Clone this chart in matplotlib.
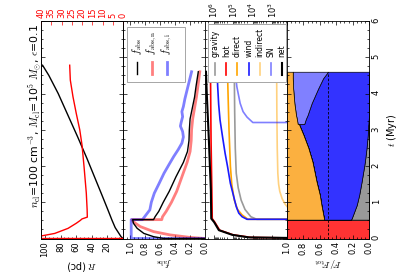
import numpy as np
import matplotlib
matplotlib.use('Agg')
import matplotlib.pyplot as plt
from matplotlib.patches import Rectangle
from matplotlib.ticker import AutoMinorLocator, MultipleLocator, LogLocator

plt.rcParams['mathtext.fontset'] = 'cm'
plt.rcParams['font.size'] = 7
plt.rcParams['xtick.labelsize'] = 6
plt.rcParams['ytick.labelsize'] = 6
plt.rcParams['xtick.direction'] = 'in'
plt.rcParams['ytick.direction'] = 'in'
plt.rcParams['xtick.major.size'] = 3
plt.rcParams['ytick.major.size'] = 3
plt.rcParams['xtick.minor.size'] = 1.5
plt.rcParams['ytick.minor.size'] = 1.5
plt.rcParams['xtick.major.pad'] = 2
plt.rcParams['ytick.major.pad'] = 2
plt.rcParams['axes.linewidth'] = 0.6

# --- radius / velocity (top panel in the original, left here)
t_R = [0, 0.05, 0.15, 0.3, 0.5, 0.8, 1.2, 1.7, 2.2, 2.8, 3.4, 4.0, 4.5, 4.78]
R_pc = [0, 2.5, 5.5, 10, 14, 19.5, 27, 36.5, 46, 58, 70.5, 83, 95, 103]
t_v = [0, 0, 0.02, 0.07, 0.14, 0.28, 0.42, 0.5, 0.54, 0.59, 0.8, 1.25, 1.98, 2.58, 3.0, 3.45, 3.91, 4.37, 4.78]
v_kms = [0, 70, 50, 39.9, 33.3, 26.8, 22.8, 20.8, 20.0, 17.4, 17.5, 17.9, 19.0, 20.0, 21.1, 22.8, 24.4, 25.7, 26.0]

# --- absorbed fractions
t_fabs = [0, 0, 0.05, 0.14, 0.28, 0.42, 0.52, 0.52, 0.6, 0.75, 1.0, 1.3, 1.7, 2.1, 2.4, 2.7, 3.0, 3.3, 3.6, 3.9, 4.2, 4.6]
f_abs = [0, 0.55, 0.69, 0.82, 0.91, 0.96, 0.97, 0.69, 0.67, 0.62, 0.56, 0.48, 0.39, 0.29, 0.235, 0.215, 0.21, 0.2, 0.17, 0.14, 0.12, 0.09]
t_fn = [0, 0.03, 0.1, 0.19, 0.33, 0.46, 0.52, 0.52, 0.6, 0.75, 1.0, 1.3, 1.7, 2.1, 2.4, 2.7, 3.0, 3.3, 3.6, 3.9, 4.2, 4.6]
f_abs_n = [0, 0.2, 0.47, 0.69, 0.87, 0.96, 0.98, 0.58, 0.57, 0.52, 0.45, 0.38, 0.31, 0.24, 0.2, 0.185, 0.18, 0.165, 0.14, 0.115, 0.095, 0.07]
t_fi = [0, 0, 0.52, 0.52, 0.6, 0.79, 1.0, 1.25, 1.5, 1.8, 2.05, 2.26, 2.45, 2.63, 2.8, 2.95, 3.1, 3.2, 3.36, 3.5, 3.64, 3.85, 4.1, 4.35, 4.6]
f_abs_i = [0, 0.99, 0.99, 0.84, 0.81, 0.74, 0.72, 0.68, 0.62, 0.55, 0.48, 0.42, 0.36, 0.31, 0.29, 0.30, 0.33, 0.32, 0.30, 0.31, 0.29, 0.27, 0.24, 0.21, 0.18]

# --- forces, log10 values (0 = below the plotted range)
t_net = [0, 0.03, 0.1, 0.23, 0.45, 0.55, 1.34, 2.0, 2.7, 3.3, 4.0, 4.6]
lg_net = [0, 4.2, 5.05, 5.74, 5.98, 6.13, 6.15, 6.2, 6.25, 6.3, 6.36, 6.4]
t_hot = [0, 0.03, 0.1, 0.23, 0.45, 0.55, 1.34, 2.0, 2.7, 3.3, 4.0, 4.6]
lg_hot = [0, 4.1, 5.0, 5.7, 5.95, 6.08, 6.1, 6.12, 6.14, 6.15, 6.16, 6.17]
t_grav = [0, 0.53, 0.53, 0.6, 0.8, 1.06, 1.4, 1.8, 2.5, 3.5, 4.6]
lg_grav = [0, 0, 3.8, 4.1, 4.4, 4.6, 4.75, 4.85, 4.9, 4.93, 4.95]
t_dir = [0, 0.53, 0.53, 0.65, 0.8, 1.06, 1.5, 2.0, 3.0, 4.0, 4.6]
lg_dir = [0, 0, 4.25, 4.55, 4.78, 4.95, 5.08, 5.15, 5.22, 5.27, 5.3]
t_wind = [0, 0.53, 0.53, 0.6, 0.7, 0.88, 1.2, 1.52, 2.0, 2.35, 2.8, 3.27, 3.7, 4.19, 4.6]
lg_wind = [0, 0, 4.3, 4.55, 4.72, 4.85, 5.0, 5.15, 5.3, 5.42, 5.55, 5.68, 5.75, 5.8, 5.83]
t_ind = [0, 0.85, 0.95, 1.1, 1.3, 1.5, 1.8, 2.5, 3.5, 4.6]
lg_ind = [0, 2.2, 2.35, 2.5, 2.62, 2.68, 2.72, 2.75, 2.77, 2.78]
t_sn = [0, 3.2, 3.2, 3.35, 3.5, 3.73, 4.0, 4.19, 4.6]
lg_sn = [0, 0, 4.0, 4.3, 4.5, 4.65, 4.75, 4.82, 4.9]

# --- force fractions
t4 = [0.0, 0.52, 0.52, 0.56, 0.92, 1.2, 1.57, 2.12, 2.5, 2.86, 3.13, 3.16, 3.16, 3.3, 3.4, 3.73, 4.14, 4.42, 4.6]
fr_hot = [1, 1, 0, 0, 0, 0, 0, 0, 0, 0, 0, 0, 0, 0, 0, 0, 0, 0, 0]
fr_grav = [0, 0, 0.22, 0.21, 0.15, 0.12, 0.09, 0.05, 0.03, 0.015, 0.01, 0.008, 0.008, 0.003, 0, 0, 0, 0, 0]
fr_wind = [0, 0, 0.33, 0.34, 0.43, 0.48, 0.55, 0.64, 0.71, 0.785, 0.84, 0.845, 0.782, 0.767, 0.75, 0.70, 0.62, 0.56, 0.50]
fr_sn = [0, 0, 0, 0, 0, 0, 0, 0, 0, 0, 0, 0, 0.08, 0.11, 0.14, 0.21, 0.305, 0.37, 0.43]
fr_dir = [0, 0, 0.45, 0.45, 0.42, 0.40, 0.36, 0.31, 0.26, 0.20, 0.15, 0.147, 0.13, 0.12, 0.11, 0.09, 0.075, 0.07, 0.07]
F_half = 0.5

title = r'$n_{\rm cl}$=100 cm$^{-3}$, $M_{\rm cl}$=10$^5$ $M_{\odot}$, $\epsilon$=0.1'


def rot_legend(ax, box, xs, styles, labels, y_handle, y_text, fs):
    # legend drawn by hand, the whole figure is turned by 90 degrees
    ax.add_patch(Rectangle(box[:2], box[2], box[3], transform=ax.transAxes,
                           facecolor='white', edgecolor='0.65', lw=0.7, zorder=5, clip_on=False))
    for x, st, lab in zip(xs, styles, labels):
        ax.plot([x, x], y_handle, transform=ax.transAxes, zorder=6, clip_on=False, **st)
        ax.text(x, y_text, lab, transform=ax.transAxes, rotation=90, ha='center', va='bottom',
                fontsize=fs, zorder=6)


fig = plt.figure(figsize=(4.11, 2.74), dpi=100)
W, H = 411.0, 274.0
axs = [fig.add_axes([x0 / W, 35.5 / H, 82 / W, 217.5 / H]) for x0 in [41, 123, 205, 287]]
for ax in axs:
    ax.set_ylim(0, 6)
    ax.yaxis.set_major_locator(MultipleLocator(1))
    ax.yaxis.set_minor_locator(AutoMinorLocator(4))
    ax.tick_params(axis='y', which='both', left=True, right=True, labelleft=False, width=0.5)
    ax.tick_params(axis='x', which='both', width=0.5, labelrotation=90)

# R panel
ax1 = axs[0]
ax1.plot(R_pc, t_R, 'k-', lw=1)
ax1.set_xlim(105, 0)
ax1.set_xticks([20, 40, 60, 80, 100])
ax1.xaxis.set_minor_locator(AutoMinorLocator(4))
ax1.tick_params(axis='x', which='both', top=False)
ax1.set_xlabel('$R$ (pc)', rotation=180, labelpad=1)
ax1t = ax1.twiny()
ax1t.plot(v_kms, t_v, 'r-', lw=1)
ax1t.set_xlim(40, 0)
ax1t.set_xticks(range(0, 41, 5))
ax1t.tick_params(axis='x', colors='r', labelrotation=90, width=0.5)
ax1t.set_ylim(0, 6)
fig.text(35 / W, 1 - 116 / H, title, rotation=90, ha='center', va='center', fontsize=7.8)

# absorbed fraction panel
ax2 = axs[1]
ax2.plot(f_abs_n, t_fn, color='r', alpha=0.5, lw=2)
ax2.plot(f_abs_i, t_fi, color='b', alpha=0.5, lw=2)
ax2.plot(f_abs, t_fabs, 'k-', lw=1)
ax2.set_xlim(1.1, 0)
ax2.set_xticks(np.arange(0, 1.01, 0.2))
ax2.xaxis.set_minor_locator(AutoMinorLocator(4))
ax2.tick_params(axis='x', which='both', top=True)
ax2.set_xlabel(r'$f_{\rm abs}$', rotation=180, labelpad=1)
rot_legend(ax2, (0.045, 0.721, 0.711, 0.253), [0.17, 0.35, 0.54],
           [dict(color='k', lw=1), dict(color='r', alpha=0.5, lw=2), dict(color='b', alpha=0.5, lw=2)],
           [r'$f_{\rm abs}$', r'$f_{\rm abs,n}$', r'$f_{\rm abs,i}$'], [0.755, 0.81], 0.845, 7.5)

# forces panel
ax3 = axs[2]
ax3.set_xscale('log')
ax3.plot(10 ** np.array(lg_grav), t_grav, color='#9a9a9a', lw=1.2)
ax3.plot(10 ** np.array(lg_hot), t_hot, color='r', lw=1.2)
ax3.plot(10 ** np.array(lg_dir), t_dir, color='orange', lw=1.2)
ax3.plot(10 ** np.array(lg_wind), t_wind, color='#1a1aff', lw=1.2)
ax3.plot(10 ** np.array(lg_ind), t_ind, color='orange', alpha=0.5, lw=1.2)
ax3.plot(10 ** np.array(lg_sn), t_sn, color='b', alpha=0.5, lw=1.2)
ax3.plot(10 ** np.array(lg_net), t_net, color='k', lw=1.5)
ax3.set_xlim(10 ** 6.45, 10 ** 2.25)
ax3.xaxis.set_major_locator(LogLocator(base=10, numticks=12))
ax3.xaxis.set_minor_locator(LogLocator(base=10, subs=np.arange(2, 10), numticks=12))
ax3.tick_params(axis='x', which='both', top=True, bottom=True, labeltop=True, labelbottom=False)
rot_legend(ax3, (0.04, 0.721, 0.945, 0.265), [0.12, 0.26, 0.395, 0.535, 0.67, 0.805, 0.935],
           [dict(color='#9a9a9a', lw=1.2), dict(color='r', lw=1.2), dict(color='orange', lw=1.2),
            dict(color='#1a1aff', lw=1.2), dict(color='orange', alpha=0.5, lw=1.2),
            dict(color='b', alpha=0.5, lw=1.2), dict(color='k', lw=1.5)],
           ['gravity', 'hot', 'direct', 'wind', 'indirect', 'SN', 'net'], [0.752, 0.807], 0.836, 5.5)

# force fraction panel
ax4 = axs[3]
layers = [(fr_hot, '#ff3333'), (fr_grav, '#999999'), (fr_wind, '#3333ff'),
          (fr_sn, '#8080ff'), (fr_dir, '#fbb040')]
lower = np.zeros(len(t4))
for frac, col in layers:
    upper = lower + np.array(frac)
    ax4.fill_betweenx(t4, lower, upper, facecolor=col, edgecolor='k', lw=0.5)
    lower = upper
ax4.plot([F_half, F_half], [t4[0], t4[-1]], 'k--', lw=0.6, dashes=(3, 2))
ax4.set_xlim(1, 0)
ax4.set_xticks(np.arange(0, 1.01, 0.2))
ax4.xaxis.set_minor_locator(AutoMinorLocator(4))
ax4.tick_params(axis='x', which='both', top=True)
ax4.tick_params(axis='y', labelright=True, labelrotation=90)
ax4.set_xlabel(r'$F/F_{\rm tot}$', rotation=180, labelpad=1)
ax4.yaxis.set_label_position('right')
ax4.set_ylabel('$t$ (Myr)', rotation=90, labelpad=3)

fig.savefig('out.png', dpi=100)
